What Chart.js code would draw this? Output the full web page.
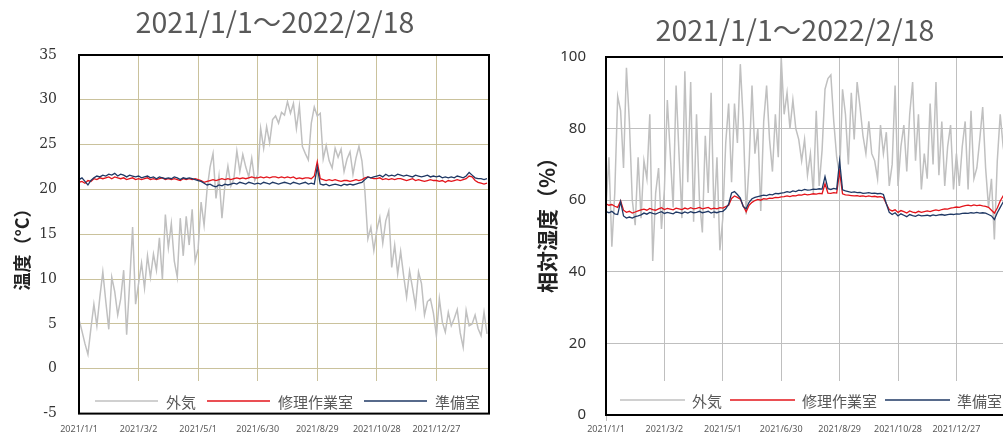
<!DOCTYPE html>
<html>
<head>
<meta charset="utf-8">
<script src="https://cdn.jsdelivr.net/npm/chart.js@4/dist/chart.umd.min.js"></script>
<style>
  html, body { margin: 0; padding: 0; background: #fff; overflow: hidden; width: 1003px; height: 444px; }
  #chartTemp { position: absolute; left: 0; top: 0; }
  #chartHum { position: absolute; left: 500px; top: 0; }
</style>
</head>
<body>
<canvas id="chartTemp" width="500" height="444"></canvas>
<canvas id="chartHum" width="560" height="444"></canvas>
<script>
// 2021/1/1 からの経過日数（3日おきのサンプル）
const dayStep = 3;
const xTickDays = [0, 60, 120, 180, 240, 300, 360];
const xTickLabels = ["2021/1/1", "2021/3/2", "2021/5/1", "2021/6/30", "2021/8/29", "2021/10/28", "2021/12/27"];
const seriesNames = ["外気", "修理作業室", "準備室"];

// 温度 (°C)
const tempOutdoor = [
  5.5, 4.2, 2.8, 1.6, 4.5, 7.2, 4.8, 8.0, 10.8, 7.5,
  4.4, 10.2, 8.6, 6.0, 7.8, 11.0, 3.8, 9.5, 15.8, 7.2,
  9.5, 11.8, 9.0, 12.6, 10.2, 12.8, 11.0, 14.6, 10.0, 17.2,
  13.5, 16.2, 12.0, 10.2, 16.8, 12.6, 17.0, 13.8, 17.8, 12.0,
  13.4, 18.6, 16.0, 20.0, 22.5, 24.0, 19.0, 21.5, 16.8, 20.5,
  22.6, 20.4, 21.2, 24.3, 22.0, 23.9, 22.5, 21.4, 23.5, 21.0,
  21.6, 26.8, 24.6, 27.0, 25.2, 27.8, 28.2, 27.4, 28.6, 28.3,
  29.8, 28.5, 29.6, 26.8, 29.3, 24.8, 24.0, 23.3, 27.4, 29.2,
  28.2, 28.5, 23.4, 24.9, 23.2, 22.4, 24.6, 23.6, 24.5, 22.0,
  23.4, 24.2, 21.7, 23.5, 24.8, 23.2, 19.8, 14.5, 15.8, 13.2,
  15.5, 16.9, 14.0, 16.5, 17.6, 11.3, 13.8, 10.6, 13.1, 10.4,
  8.0, 10.9, 9.0, 7.0, 10.8, 9.5, 6.0, 7.5, 7.8, 6.2,
  3.7, 7.8, 5.2, 4.1, 6.3, 4.8, 5.6, 6.6, 4.0, 2.4,
  6.5, 4.8, 5.0, 6.0, 4.5, 3.7, 6.3, 3.9
];
const tempRepair = [
  20.8, 20.9, 20.7, 21.0, 20.9, 21.2, 21.1, 21.3, 21.2, 21.3,
  21.4, 21.2, 21.4, 21.3, 21.2, 21.3, 21.1, 21.2, 21.3, 21.1,
  21.2, 21.1, 21.2, 21.3, 21.1, 21.2, 21.1, 21.2, 21.3, 21.1,
  21.2, 21.1, 21.2, 21.1, 21.0, 21.2, 21.1, 21.2, 21.1, 21.2,
  21.1, 21.0, 20.8, 20.9, 21.0, 21.1, 21.0, 21.1, 21.2, 21.1,
  21.2, 21.1, 21.2, 21.3, 21.2, 21.3, 21.2, 21.3, 21.4, 21.3,
  21.3, 21.4, 21.3, 21.4, 21.3, 21.4, 21.4, 21.3, 21.4, 21.3,
  21.4, 21.3, 21.4, 21.2, 21.3, 21.2, 21.3, 21.3, 21.2, 21.5,
  23.1, 21.2, 21.1, 21.0, 21.1, 21.0, 21.1, 21.0, 20.9, 21.0,
  21.0, 20.9, 21.0, 21.1, 21.0, 21.1, 21.3, 21.4, 21.3, 21.2,
  21.2, 21.3, 21.1, 21.2, 21.1, 21.2, 21.1, 21.2, 21.2, 21.1,
  21.0, 21.1, 21.2, 21.0, 21.1, 21.0, 20.9, 21.0, 21.1, 21.0,
  21.0, 20.9, 21.0, 20.8, 21.0, 20.9, 21.0, 21.1, 21.0, 21.1,
  21.2, 21.5, 21.4, 21.0, 20.8, 20.7, 20.6, 20.7
];
const tempPrep = [
  21.1, 21.3, 20.9, 20.5, 21.0, 21.3, 21.5, 21.4, 21.6, 21.5,
  21.7, 21.6, 21.8, 21.5, 21.7, 21.6, 21.4, 21.6, 21.5, 21.4,
  21.5, 21.3, 21.4, 21.5, 21.3, 21.4, 21.2, 21.4, 21.3, 21.2,
  21.3, 21.2, 21.4, 21.3, 21.1, 21.3, 21.2, 21.3, 21.2, 21.1,
  21.0, 20.9, 20.7, 20.5, 20.6, 20.4, 20.3, 20.5, 20.4, 20.6,
  20.5, 20.6, 20.7, 20.6, 20.8, 20.7, 20.6, 20.8, 20.7, 20.6,
  20.7, 20.6, 20.8, 20.7, 20.6, 20.8, 20.7, 20.6, 20.7, 20.8,
  20.7, 20.6, 20.8, 20.7, 20.6, 20.7, 20.8, 20.6, 20.7, 20.6,
  22.5, 20.6, 20.5, 20.6, 20.4, 20.5, 20.6, 20.5, 20.4, 20.6,
  20.5, 20.6, 20.5, 20.6, 20.7, 20.8, 21.1, 21.4, 21.3, 21.4,
  21.5, 21.6, 21.4, 21.7, 21.5, 21.6, 21.5, 21.7, 21.6, 21.5,
  21.6, 21.5, 21.4, 21.6, 21.5, 21.4, 21.5, 21.6, 21.4, 21.5,
  21.4, 21.5, 21.3, 21.4, 21.3, 21.4, 21.3, 21.5, 21.4, 21.3,
  21.5, 21.9, 21.6, 21.3, 21.2, 21.2, 21.1, 21.2
];

// 相対湿度 (%)
const humOutdoor = [
  58, 72, 47, 62, 89, 85, 69, 97, 82, 60,
  53, 72, 55, 71, 66, 84, 43, 62, 69, 52,
  63, 88, 73, 58, 92, 73, 55, 96, 65, 93,
  54, 84, 60, 51, 78, 62, 90, 55, 72, 46,
  55, 76, 87, 65, 87, 76, 98, 82, 56, 70,
  92, 73, 80, 57, 82, 92, 77, 68, 84, 72,
  100, 84, 90, 80, 88, 80, 77, 71, 77, 67,
  73, 62, 85, 64, 74, 91, 94, 95, 82, 72,
  67, 91, 84, 70, 90, 77, 93, 86, 78, 73,
  82, 73, 71, 66, 81, 73, 79, 64, 70, 92,
  64, 75, 81, 68, 84, 93, 71, 84, 63, 73,
  66, 87, 70, 93, 67, 82, 64, 75, 81, 63,
  73, 64, 75, 82, 63, 85, 66, 69, 77, 86,
  69, 58, 66, 49, 71, 84, 75, 70
];
const humRepair = [
  59.0, 58.6, 58.8, 58.3, 58.0, 59.8, 57.2, 56.6, 56.9, 56.4,
  56.7, 57.0, 57.3, 57.5, 57.2, 57.7, 57.4, 57.2, 57.6, 57.9,
  57.4, 57.7, 57.5, 57.3, 57.8, 57.6, 57.4, 57.8, 57.5, 57.9,
  57.6, 57.7, 58.0, 57.6, 57.8, 58.0, 57.5, 57.8, 57.6, 57.9,
  57.8, 58.2, 58.6, 60.5, 61.2, 60.8, 60.3, 58.4, 56.8, 58.6,
  59.4, 59.9, 60.2, 60.0, 60.4, 60.3, 60.6, 60.5, 60.8, 60.7,
  60.9, 61.0, 61.2, 61.0, 61.3, 61.2, 61.5, 61.4, 61.7, 61.5,
  61.6, 61.8, 61.7, 61.9, 61.8, 64.6, 62.0, 61.9, 62.1, 62.0,
  68.0, 61.8, 61.5, 61.4, 61.3, 61.2, 61.3, 61.1, 61.2, 61.0,
  61.2, 61.0, 61.1, 60.9, 61.0, 60.7, 59.0, 57.4, 57.0, 57.3,
  56.6, 57.1, 56.8, 56.4, 57.0, 56.7, 56.5, 56.9, 56.6, 56.8,
  57.0, 56.8, 57.1, 57.3, 57.1, 57.4, 57.6, 57.5, 57.8, 57.9,
  58.1, 58.0, 58.3, 58.5, 58.6, 58.4, 58.7, 58.5, 58.6, 58.4,
  58.3, 58.0, 57.2, 56.4, 57.8, 59.8, 61.2, 62.0
];
const humPrep = [
  56.8, 56.5, 56.9, 56.2, 56.0, 59.6, 55.6, 55.0, 55.3, 55.0,
  55.4, 55.6, 55.9, 56.4, 56.1, 56.6, 56.3, 56.1, 56.5, 56.8,
  56.3, 56.6, 56.4, 56.2, 56.7, 56.5, 56.3, 56.7, 56.4, 56.8,
  56.5, 56.6, 56.9, 56.5, 56.7, 56.9, 56.4, 56.7, 56.5, 56.8,
  56.9, 57.6, 58.9, 62.0, 62.4, 61.6, 60.6, 58.2, 57.6, 59.4,
  60.4, 60.8, 61.0, 61.2, 61.4, 61.3, 61.6, 61.5, 61.9, 61.8,
  62.0, 62.1, 62.4, 62.2, 62.6, 62.4, 62.8, 62.7, 63.0, 62.8,
  62.9, 63.1, 63.0, 63.2, 63.1, 66.6, 63.2, 63.0, 63.3, 63.1,
  71.0, 62.9, 62.6, 62.4, 62.2, 62.3, 62.1, 62.2, 61.9, 62.0,
  62.1, 61.9, 62.0, 61.8, 61.9, 61.6, 59.0, 56.6, 56.0, 56.5,
  55.6, 56.2, 55.8, 55.4, 56.0, 55.7, 55.5, 55.9, 55.6, 55.7,
  55.8, 55.6, 55.9, 55.7, 55.9, 56.0, 55.8, 56.0, 56.1, 56.0,
  56.2, 56.1, 56.3, 56.4, 56.3, 56.5, 56.4, 56.6, 56.4, 56.5,
  56.4, 56.0, 55.6, 54.6, 56.5, 58.0, 59.5, 60.5
];

const colors = { outdoor: "#c0c0c0", repair: "#e3141b", prep: "#1f3864" };

function toPoints(values) {
  return values.map((v, i) => ({ x: i * dayStep, y: v }));
}

function makeDatasets(outdoor, repair, prep) {
  return [
    { label: seriesNames[0], data: toPoints(outdoor), borderColor: colors.outdoor, borderWidth: 1.5, order: 3 },
    { label: seriesNames[1], data: toPoints(repair), borderColor: colors.repair, borderWidth: 1.3, order: 2 },
    { label: seriesNames[2], data: toPoints(prep), borderColor: colors.prep, borderWidth: 1.3, order: 1 }
  ];
}

// タイトルと縦軸ラベル（グラフ領域とずれた位置に置くため自前で描く）
const plotTexts = {
  id: "plotTexts",
  afterDraw(chart, args, opts) {
    const ctx = chart.ctx;
    ctx.save();
    ctx.textAlign = "center";
    ctx.textBaseline = "middle";
    ctx.font = '28.5px "Noto Sans CJK JP"';
    ctx.fillStyle = "#595959";
    ctx.fillText(opts.title, opts.titleX, opts.titleY);
    ctx.translate(opts.axisX, opts.axisY);
    ctx.rotate(-Math.PI / 2);
    ctx.font = `bold ${opts.axisSize}px "Noto Sans CJK JP"`;
    ctx.fillStyle = "#222";
    ctx.fillText(opts.axisTitle, 0, 0);
    ctx.restore();
  }
};

// プロット内の凡例（白地）
const lineLegend = {
  id: "lineLegend",
  afterDatasetsDraw(chart, args, opts) {
    const { ctx, chartArea: a } = chart;
    ctx.save();
    ctx.fillStyle = "#fff";
    ctx.fillRect(a.left + 1, opts.boxTop, a.right - a.left - 2, opts.boxBottom - opts.boxTop);
    ctx.font = '15px "Noto Sans CJK JP"';
    ctx.textBaseline = "middle";
    let x = a.left + opts.startX;
    chart.data.datasets.forEach(ds => {
      ctx.strokeStyle = ds.borderColor;
      ctx.lineWidth = 1.5;
      ctx.beginPath();
      ctx.moveTo(x, opts.y);
      ctx.lineTo(x + opts.lineLen, opts.y);
      ctx.stroke();
      x += opts.lineLen + opts.gap;
      ctx.fillStyle = "#595959";
      ctx.fillText(ds.label, x, opts.y + 1);
      x += ctx.measureText(ds.label).width + opts.spacing;
    });
    ctx.restore();
  }
};

// プロット枠
const plotFrame = {
  id: "plotFrame",
  afterDraw(chart) {
    const { ctx, chartArea: a } = chart;
    ctx.save();
    ctx.strokeStyle = "#000";
    ctx.lineWidth = 2;
    ctx.strokeRect(a.left, a.top, a.right - a.left, a.bottom - a.top);
    ctx.restore();
  }
};

function xScale(gridColor, drawTicks, pad, height) {
  return {
    type: "linear", min: 0, max: 413,
    afterBuildTicks: s => { s.ticks = xTickDays.map(v => ({ value: v })); },
    afterFit: s => { s.height = height; },
    border: { display: false },
    grid: { color: gridColor, lineWidth: 1, drawTicks: drawTicks, tickLength: 6 },
    ticks: {
      autoSkip: false, maxRotation: 0, padding: pad,
      font: { family: "Noto Sans", size: 9 }, color: "#595959",
      callback: (v, i) => xTickLabels[i]
    }
  };
}

Chart.defaults.animation = false;
Chart.defaults.elements.point.radius = 0;
Chart.defaults.elements.line.tension = 0;

new Chart(document.getElementById("chartTemp"), {
  type: "line",
  data: { datasets: makeDatasets(tempOutdoor, tempRepair, tempPrep) },
  options: {
    responsive: false,
    layout: { padding: { top: 55, right: 11, bottom: 0, left: 0 } },
    plugins: {
      legend: { display: false },
      tooltip: { enabled: false },
      plotTexts: { title: "2021/1/1～2022/2/18", titleX: 275, titleY: 22,
                   axisTitle: "温度（°C）", axisX: 22, axisY: 245, axisSize: 18 },
      lineLegend: { startX: 16, y: 401, boxTop: 381, boxBottom: 421, lineLen: 63, gap: 8, spacing: 11 }
    },
    scales: {
      x: xScale("#cac29c", false, 10, 19),
      y: {
        min: -5, max: 35,
        afterFit: s => { s.width = 79; },
        border: { display: false },
        grid: { color: "#cac29c", drawTicks: false },
        ticks: { stepSize: 5, padding: 22, font: { family: "DejaVu Serif", size: 14 }, color: "#333" }
      }
    }
  },
  plugins: [plotTexts, lineLegend, plotFrame]
});

new Chart(document.getElementById("chartHum"), {
  type: "line",
  data: { datasets: makeDatasets(humOutdoor, humRepair, humPrep) },
  options: {
    responsive: false,
    layout: { padding: { top: 57, right: 52, bottom: 0, left: 0 } },
    plugins: {
      legend: { display: false },
      tooltip: { enabled: false },
      plotTexts: { title: "2021/1/1～2022/2/18", titleX: 295, titleY: 30,
                   axisTitle: "相対湿度（%）", axisX: 47, axisY: 220, axisSize: 21 },
      lineLegend: { startX: 14, y: 400, boxTop: 381, boxBottom: 425, lineLen: 65, gap: 7, spacing: 8 }
    },
    scales: {
      x: xScale("#bfbfbf", true, 3, 17),
      y: {
        min: 0, max: 100,
        afterFit: s => { s.width = 106; },
        border: { display: false },
        grid: { color: "#bfbfbf", drawTicks: false },
        ticks: { stepSize: 20, padding: 20, font: { family: "Noto Sans", size: 15 }, color: "#333" }
      }
    }
  },
  plugins: [plotTexts, lineLegend, plotFrame]
});
</script>
</body>
</html>
